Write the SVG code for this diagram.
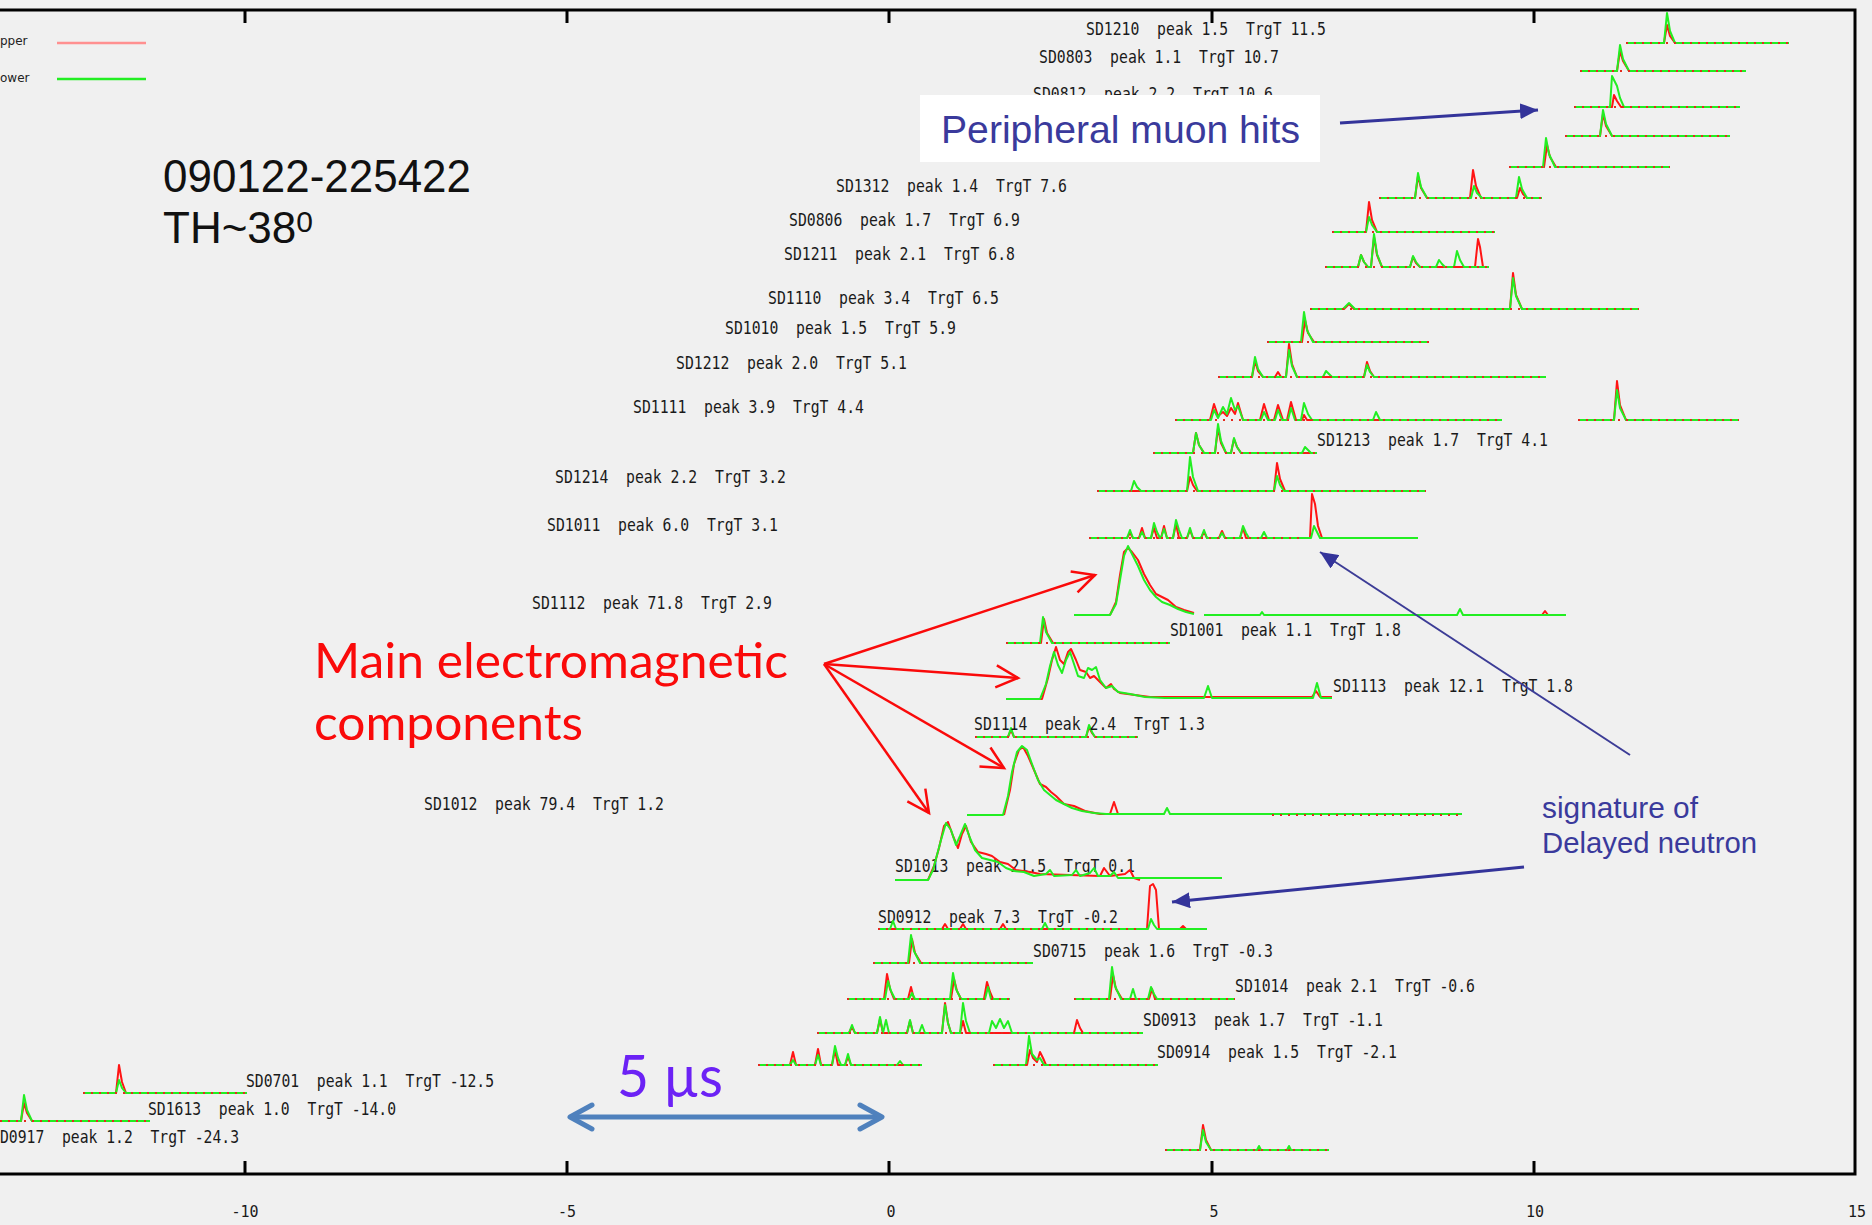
<svg xmlns="http://www.w3.org/2000/svg" width="1872" height="1225" viewBox="0 0 1872 1225">
<style>
  .g{fill:none;stroke:#22ee22;stroke-width:2;stroke-linejoin:round}
  .r{fill:none;stroke:#ff1414;stroke-width:2;stroke-linejoin:round}
  .nz{fill:none;stroke:#e42a1e;stroke-width:2;stroke-dasharray:2 6}
  .lb{font-family:"DejaVu Sans Mono","Liberation Mono",monospace;font-size:17px;fill:#1a1a1a;white-space:pre}
  .tk{font-family:"DejaVu Sans Mono","Liberation Mono",monospace;font-size:15px;fill:#1a1a1a;text-anchor:middle}
  .frame{fill:none;stroke:#000;stroke-width:3}
  .big{font-family:"Liberation Sans",Arial,sans-serif;fill:#111}
  .navy{font-family:"Liberation Sans",Arial,sans-serif;fill:#3a3a9c}
  .em{font-family:Lato,"Open Sans",sans-serif;fill:#fa0a0a}
</style>
<defs>
  <marker id="headRed" markerUnits="userSpaceOnUse" viewBox="0 0 30 30" markerWidth="30" markerHeight="30" refX="27" refY="15" orient="auto">
    <path d="M5,4 L27,15 L5,26" fill="none" stroke="#fa0a0a" stroke-width="2.5"/>
  </marker>
  <marker id="headNavy" markerUnits="userSpaceOnUse" viewBox="0 0 20 16" markerWidth="20" markerHeight="16" refX="18" refY="8" orient="auto">
    <path d="M0,0 L18,8 L0,16 z" fill="#34349a"/>
  </marker>
  <marker id="headBlue" markerUnits="userSpaceOnUse" viewBox="0 0 32 32" markerWidth="32" markerHeight="32" refX="27" refY="16" orient="auto-start-reverse">
    <path d="M5,4 L27,16 L5,28" fill="none" stroke="#4f81bd" stroke-width="5" stroke-linejoin="round" stroke-linecap="round"/>
  </marker>
</defs>

<rect width="1872" height="1225" fill="#f0f0f0"/>

<!-- plot frame, ticks and time axis -->
<g id="axes">
  <path class="frame" d="M0 10 H1855 V1174 H0"/>
  <path class="frame" d="M245 10 v13 M567 10 v13 M889 10 v13 M1212 10 v13 M1534 10 v13 M245 1174 v-13 M567 1174 v-13 M889 1174 v-13 M1212 1174 v-13 M1534 1174 v-13"/>
  <text class="tk" x="245" y="1217">-10</text>
  <text class="tk" x="567" y="1217">-5</text>
  <text class="tk" x="891" y="1217">0</text>
  <text class="tk" x="1214" y="1217">5</text>
  <text class="tk" x="1535" y="1217">10</text>
  <text class="tk" x="1857" y="1217">15</text>
</g>

<!-- legend -->
<g id="legend">
  <text x="0" y="45" font-family="DejaVu Sans,sans-serif" font-size="12" fill="#222">pper</text>
  <line x1="57" y1="43" x2="146" y2="43" stroke="#ff9090" stroke-width="2.5"/>
  <text x="0" y="82" font-family="DejaVu Sans,sans-serif" font-size="12" fill="#222">ower</text>
  <line x1="57" y1="79" x2="146" y2="79" stroke="#22ee22" stroke-width="2.5"/>
</g>

<!-- station traces: red = upper PMT, green = lower PMT -->
<g id="traces">
  <g id="sd1210">
    <path class="r" d="M1626 43 H1664 l3 -18 l3 11 l5 7 H1789"/>
    <path class="g" d="M1626 43 H1664 l3 -30 l3 18 l5 12 H1789"/>
    <path class="nz" d="M1626 43 H1789"/>
    <text class="lb" x="1086" y="35" textLength="240" lengthAdjust="spacingAndGlyphs">SD1210  peak 1.5  TrgT 11.5</text>
  </g>
  <g id="sd0803">
    <path class="r" d="M1580 71 H1617 l3 -20 l3 10 l6 10 H1746"/>
    <path class="g" d="M1580 71 H1617 l3 -26 l3 14 l6 12 H1746"/>
    <path class="nz" d="M1580 71 H1746"/>
    <text class="lb" x="1039" y="63" textLength="240" lengthAdjust="spacingAndGlyphs">SD0803  peak 1.1  TrgT 10.7</text>
  </g>
  <g id="sd0812">
    <path class="r" d="M1574 107 H1612 l2 -12 l3 6 l4 6 H1740"/>
    <path class="g" d="M1574 107 H1610 l2 -31 l3 6 l2 4 l3 12 l4 9 H1740"/>
    <path class="nz" d="M1574 107 H1740"/>
    <text class="lb" x="1033" y="100" textLength="240" lengthAdjust="spacingAndGlyphs">SD0812  peak 2.2  TrgT 10.6</text>
  </g>
  <g id="trace-136">
    <path class="r" d="M1565 136 H1600 l3 -22 l3 12 l6 10 H1730"/>
    <path class="g" d="M1565 136 H1600 l3 -26 l3 14 l6 12 H1730"/>
    <path class="nz" d="M1565 136 H1730"/>
  </g>
  <g id="trace-167">
    <path class="r" d="M1509 167 H1544 l3 -22 l3 12 l6 10 H1670"/>
    <path class="g" d="M1509 167 H1543 l3 -29 l3 16 l6 13 H1670"/>
    <path class="nz" d="M1509 167 H1670"/>
  </g>
  <g id="sd1312">
    <path class="r" d="M1379 198 H1415 l3 -22 l3 12 l6 10 H1470 l3 -28 l3 16 l5 12 H1517 l3 -10 l3 6 l4 4 H1542"/>
    <path class="g" d="M1379 198 H1415 l3 -25 l3 14 l6 11 H1471 l3 -12 l3 7 l5 5 H1516 l3 -21 l3 12 l5 9 H1542"/>
    <path class="nz" d="M1379 198 H1542"/>
    <text class="lb" x="836" y="192" textLength="231" lengthAdjust="spacingAndGlyphs">SD1312  peak 1.4  TrgT 7.6</text>
  </g>
  <g id="sd0806">
    <path class="r" d="M1332 232 H1366 l3 -30 l3 18 l5 12 H1495"/>
    <path class="g" d="M1332 232 H1366 l3 -15 l3 8 l5 7 H1495"/>
    <path class="nz" d="M1332 232 H1495"/>
    <text class="lb" x="789" y="226" textLength="231" lengthAdjust="spacingAndGlyphs">SD0806  peak 1.7  TrgT 6.9</text>
  </g>
  <g id="sd1211">
    <path class="r" d="M1325 267 H1358 l3 -12 l3 7 l4 5 H1371 l3 -30 l3 18 l5 12 H1410 l3 -10 l3 6 l4 4 H1475 l3 -28 l2 8 l3 20 H1489"/>
    <path class="g" d="M1325 267 H1358 l3 -12 l3 7 l4 5 H1371 l3 -33 l3 20 l5 13 H1410 l3 -11 l3 6 l4 5 H1436 l3 -7 l3 4 l3 3 H1454 l3 -16 l3 9 l4 7 H1489"/>
    <path class="nz" d="M1325 267 H1489"/>
    <text class="lb" x="784" y="260" textLength="231" lengthAdjust="spacingAndGlyphs">SD1211  peak 2.1  TrgT 6.8</text>
  </g>
  <g id="sd1110">
    <path class="r" d="M1310 309 H1344 l5 -5 l5 5 H1510 l3 -36 l3 22 l6 14 H1639"/>
    <path class="g" d="M1310 309 H1343 l6 -6 l6 6 H1510 l3 -31 l3 18 l6 13 H1639"/>
    <path class="nz" d="M1310 309 H1639"/>
    <text class="lb" x="768" y="304" textLength="231" lengthAdjust="spacingAndGlyphs">SD1110  peak 3.4  TrgT 6.5</text>
  </g>
  <g id="sd1010">
    <path class="r" d="M1267 342 H1302 l3 -22 l3 13 l6 9 H1429"/>
    <path class="g" d="M1267 342 H1301 l3 -30 l3 18 l6 12 H1429"/>
    <path class="nz" d="M1267 342 H1429"/>
    <text class="lb" x="725" y="334" textLength="231" lengthAdjust="spacingAndGlyphs">SD1010  peak 1.5  TrgT 5.9</text>
  </g>
  <g id="sd1212">
    <path class="r" d="M1218 377 H1252 l3 -16 l3 10 l5 6 H1275 l3 -5 l3 5 H1286 l3 -33 l3 20 l5 13 H1364 l3 -15 l3 9 l4 6 H1546"/>
    <path class="g" d="M1218 377 H1252 l3 -20 l3 12 l5 8 H1286 l3 -27 l3 16 l5 11 H1323 l3 -6 l3 3 l3 3 H1364 l3 -12 l3 7 l4 5 H1546"/>
    <path class="nz" d="M1218 377 H1546"/>
    <text class="lb" x="676" y="369" textLength="231" lengthAdjust="spacingAndGlyphs">SD1212  peak 2.0  TrgT 5.1</text>
  </g>
  <g id="sd1111">
    <path class="r" d="M1175 420 H1210 L1214 404 L1218 416 L1223 412 L1227 416 L1231 408 L1235 414 L1238 403 L1243 420 H1260 L1264 404 L1269 420 H1274 L1278 405 L1283 420 H1287 L1291 402 L1296 420 H1302 L1304 415 L1307 420 H1502"/>
    <path class="g" d="M1175 420 H1211 L1214 410 L1218 418 L1223 407 L1227 414 L1231 398 L1235 410 L1238 406 L1243 420 H1261 L1264 412 L1268 420 H1275 L1278 410 L1282 420 H1288 L1291 408 L1295 420 H1301 L1304 403 L1308 414 L1312 420 H1373 L1376 412 L1380 420 H1502"/>
    <path class="nz" d="M1175 420 H1502"/>
    <text class="lb" x="633" y="413" textLength="231" lengthAdjust="spacingAndGlyphs">SD1111  peak 3.9  TrgT 4.4</text>
  </g>
  <g id="trace-420b">
    <path class="r" d="M1578 420 H1614 l3 -39 l3 24 l6 15 H1739"/>
    <path class="g" d="M1578 420 H1614 l3 -30 l3 18 l6 12 H1739"/>
    <path class="nz" d="M1578 420 H1739"/>
  </g>
  <g id="sd1213">
    <path class="r" d="M1153 453 H1193 l3 -20 l3 12 l5 8 H1215 l3 -25 l3 15 l5 10 H1231 l3 -14 l3 8 l4 6 H1317"/>
    <path class="g" d="M1153 453 H1193 l3 -20 l3 12 l5 8 H1215 l3 -29 l3 17 l5 12 H1231 l3 -15 l3 9 l4 6 H1302 l3 -6 l3 3 l3 3 H1317"/>
    <path class="nz" d="M1153 453 H1317"/>
    <text class="lb" x="1317" y="446" textLength="231" lengthAdjust="spacingAndGlyphs">SD1213  peak 1.7  TrgT 4.1</text>
  </g>
  <g id="sd1214">
    <path class="r" d="M1097 491 H1187 l3 -14 l3 8 l4 6 H1274 l3 -28 l3 16 l5 12 H1426"/>
    <path class="g" d="M1097 491 H1131 l3 -10 l3 6 l4 4 H1187 l3 -34 l3 20 l5 14 H1274 l3 -15 l3 9 l4 6 H1426"/>
    <path class="nz" d="M1097 491 H1426"/>
    <text class="lb" x="555" y="483" textLength="231" lengthAdjust="spacingAndGlyphs">SD1214  peak 2.2  TrgT 3.2</text>
  </g>
  <g id="sd1011">
    <path class="r" d="M1089 538 H1127 l3 -5 l3 5 H1139 l3 -10 l3 10 H1151 l3 -10 l3 10 H1161 l3 -12 l3 12 H1173 l3 -14 l3 14 H1187 l3 -8 l3 8 H1201 l3 -6 l3 6 H1219 l3 -7 l3 7 H1240 l3 -10 l3 10 H1310 l2 -44 l3 10 l3 22 l4 12 H1418"/>
    <path class="g" d="M1089 538 H1127 l3 -8 l3 8 H1139 l3 -6 l3 6 H1151 l3 -15 l3 9 l3 6 H1161 l3 -9 l3 9 H1173 l3 -18 l3 10 l3 8 H1187 l3 -10 l3 10 H1201 l3 -8 l3 8 H1219 l3 -5 l3 5 H1240 l3 -12 l3 7 l3 5 H1261 l3 -6 l3 6 H1311 l3 -12 l3 6 l3 6 H1418"/>
    <path class="nz" d="M1089 538 H1300"/>
    <text class="lb" x="547" y="531" textLength="231" lengthAdjust="spacingAndGlyphs">SD1011  peak 6.0  TrgT 3.1</text>
  </g>
  <g id="sd1112">
    <path class="r" d="M1110 615 L1116 602 L1120 575 L1124 552 L1128 548 L1132 552 L1138 560 L1144 574 L1150 585 L1156 594 L1162 597 L1168 600 L1176 607 L1184 610 L1194 613 M1542 615 l3 -4 l3 4"/>
    <path class="g" d="M1074 615 H1110 L1116 604 L1120 580 L1124 556 L1128 546 L1133 556 L1138 566 L1144 580 L1150 590 L1156 597 L1162 602 L1170 605 L1178 609 L1186 612 L1194 614 M1204 615 H1260 l2 -3 l2 3 H1457 l3 -6 l3 6 H1566"/>
    <text class="lb" x="532" y="609" textLength="240" lengthAdjust="spacingAndGlyphs">SD1112  peak 71.8  TrgT 2.9</text>
  </g>
  <g id="sd1001">
    <path class="r" d="M1006 643 H1041 l3 -24 l3 14 l6 10 H1170"/>
    <path class="g" d="M1006 643 H1040 l3 -26 l3 15 l6 11 H1170"/>
    <path class="nz" d="M1006 643 H1170"/>
    <text class="lb" x="1170" y="636" textLength="231" lengthAdjust="spacingAndGlyphs">SD1001  peak 1.1  TrgT 1.8</text>
  </g>
  <g id="sd1113">
    <path class="r" d="M1006 699 H1042 L1048 678 L1052 660 L1056 647 L1060 660 L1064 664 L1068 652 L1071 649 L1076 660 L1080 670 L1086 672 L1090 678 L1094 676 L1100 682 L1106 688 L1111 684 L1114 689 L1120 693 L1135 695 L1150 697 H1312 l4 -6 l4 6 H1332"/>
    <path class="g" d="M1006 699 H1040 L1046 684 L1050 666 L1054 652 L1058 665 L1062 673 L1066 660 L1070 652 L1074 664 L1078 676 L1084 678 L1088 668 L1092 670 L1096 667 L1100 680 L1106 688 L1112 686 L1118 692 L1130 694 L1145 697 L1165 698 H1204 l4 -12 l4 12 H1313 l4 -15 l4 15 H1332"/>
    <text class="lb" x="1333" y="692" textLength="240" lengthAdjust="spacingAndGlyphs">SD1113  peak 12.1  TrgT 1.8</text>
  </g>
  <g id="sd1114">
    <path class="r" d="M975 737 H1008 l3 -7 l3 7 H1086 l3 -10 l3 6 l3 4 H1138"/>
    <path class="g" d="M975 737 H1008 l3 -9 l3 9 H1086 l3 -12 l3 7 l3 5 H1138"/>
    <path class="nz" d="M975 737 H1138"/>
    <text class="lb" x="974" y="730" textLength="231" lengthAdjust="spacingAndGlyphs">SD1114  peak 2.4  TrgT 1.3</text>
  </g>
  <g id="sd1012">
    <path class="r" d="M1004 815 L1010 790 L1014 764 L1019 750 L1023 747 L1028 756 L1034 770 L1040 784 L1046 787 L1051 792 L1056 796 L1064 804 L1074 806 L1085 811 L1100 814 H1110 l4 -12 l4 12 H1130"/>
    <path class="g" d="M967 815 H1003 L1008 796 L1012 772 L1017 752 L1022 746 L1027 750 L1032 764 L1038 780 L1044 790 L1050 795 L1056 800 L1064 804 L1072 808 L1082 811 L1094 813 L1106 814 H1164 l3 -6 l3 6 H1462"/>
    <path class="nz" d="M1272 815 H1462"/>
    <text class="lb" x="424" y="810" textLength="240" lengthAdjust="spacingAndGlyphs">SD1012  peak 79.4  TrgT 1.2</text>
  </g>
  <g id="sd1013">
    <text class="lb" x="895" y="872" textLength="240" lengthAdjust="spacingAndGlyphs">SD1013  peak 21.5  TrgT 0.1</text>
    <path class="r" d="M928 880 L934 866 L939 848 L944 826 L948 822 L953 836 L958 848 L962 834 L966 826 L971 842 L978 852 L986 854 L992 856 L1000 862 L1008 864 L1016 870 L1030 872 L1040 874 L1100 876 L1104 868 L1110 876 L1125 874 L1130 870 L1134 878 L1140 880"/>
    <path class="g" d="M895 880 H928 L933 870 L937 855 L941 840 L946 823 L951 830 L956 845 L960 836 L965 824 L970 838 L975 850 L982 858 L990 860 L998 862 L1006 868 L1014 871 L1024 872 L1034 876 L1046 874 L1050 870 L1054 876 L1072 875 L1076 870 L1080 876 L1090 873 L1094 868 L1098 876 L1110 876 L1114 872 L1118 878 H1222"/>
  </g>
  <g id="sd0912">
    <text class="lb" x="878" y="923" textLength="240" lengthAdjust="spacingAndGlyphs">SD0912  peak 7.3  TrgT -0.2</text>
    <path class="r" d="M878 929 H942 l3 -5 l3 5 H960 l3 -5 l3 5 H1000 l3 -5 l3 5 H1147 L1150 886 L1153 884 L1156 890 L1159 929 H1180 l3 -3 l3 3 H1207"/>
    <path class="g" d="M878 929 H890 l3 -8 l3 8 H1042 l3 -6 l3 6 H1148 l3 -10 l3 6 l3 4 H1207"/>
    <path class="nz" d="M878 929 H1140"/>
  </g>
  <g id="sd0715">
    <path class="r" d="M873 963 H909 l3 -24 l3 14 l6 10 H1033"/>
    <path class="g" d="M873 963 H908 l3 -28 l3 16 l6 12 H1033"/>
    <path class="nz" d="M873 963 H1033"/>
    <text class="lb" x="1033" y="957" textLength="240" lengthAdjust="spacingAndGlyphs">SD0715  peak 1.6  TrgT -0.3</text>
  </g>
  <g id="sd1014">
    <path class="r" d="M847 999 H884 l3 -25 l3 15 l4 10 H908 l3 -12 l3 12 H951 l3 -20 l3 12 l4 8 H984 l3 -17 l3 10 l3 7 H1010 M1074 999 H1110 l3 -24 l3 14 l6 10 H1149 l3 -10 l3 10 H1235"/>
    <path class="g" d="M847 999 H885 l3 -18 l3 10 l4 8 H909 l3 -6 l3 6 H950 l3 -26 l3 16 l5 10 H985 l3 -12 l3 12 H1010 M1074 999 H1109 l3 -32 l3 19 l6 13 H1130 l3 -10 l3 10 H1148 l3 -12 l3 7 l3 5 H1235"/>
    <path class="nz" d="M847 999 H1010 M1074 999 H1235"/>
    <text class="lb" x="1235" y="992" textLength="240" lengthAdjust="spacingAndGlyphs">SD1014  peak 2.1  TrgT -0.6</text>
  </g>
  <g id="sd0913">
    <path class="r" d="M817 1033 H849 l3 -6 l3 6 H877 l3 -14 l3 14 H907 l3 -12 l3 12 H942 l3 -30 l3 20 l3 10 H960 l3 -12 l3 12 H1074 l3 -13 l3 8 l3 5 H1143"/>
    <path class="g" d="M817 1033 H849 l3 -8 l3 8 H877 l3 -16 l3 16 l3 -13 l3 13 H907 l3 -13 l3 13 H919 l3 -8 l3 8 H942 l3 -28 l3 18 l3 10 H960 l3 -30 l3 18 l4 12 H989 L992 1021 L996 1028 L1000 1019 L1004 1028 L1008 1021 L1012 1033 H1143"/>
    <path class="nz" d="M817 1033 H1143"/>
    <text class="lb" x="1143" y="1026" textLength="240" lengthAdjust="spacingAndGlyphs">SD0913  peak 1.7  TrgT -1.1</text>
  </g>
  <g id="sd0914">
    <path class="r" d="M758 1065 H790 l3 -13 l3 13 H815 l3 -16 l3 16 H832 l3 -15 l3 15 H845 l3 -8 l3 8 H922 M993 1065 H1027 l3 -15 l3 8 l4 4 l3 -10 l3 6 l3 7 H1158"/>
    <path class="g" d="M758 1065 H790 l3 -5 l3 5 H815 l3 -10 l3 10 H832 l3 -19 l3 12 l3 7 H845 l3 -11 l3 11 H897 l3 -4 l3 4 H922 M993 1065 H1026 l3 -29 l3 18 l5 6 l3 -2 l4 7 H1158"/>
    <path class="nz" d="M758 1065 H922 M993 1065 H1158"/>
    <text class="lb" x="1157" y="1058" textLength="240" lengthAdjust="spacingAndGlyphs">SD0914  peak 1.5  TrgT -2.1</text>
  </g>
  <g id="sd0701">
    <path class="r" d="M83 1093 H116 l3 -28 l3 17 l4 11 H247"/>
    <path class="g" d="M83 1093 H116 l3 -13 l3 8 l4 5 H247"/>
    <path class="nz" d="M83 1093 H247"/>
    <text class="lb" x="246" y="1087" textLength="248" lengthAdjust="spacingAndGlyphs">SD0701  peak 1.1  TrgT -12.5</text>
  </g>
  <g id="sd1613">
    <path class="r" d="M0 1121 H21 l3 -18 l3 10 l5 8 H150"/>
    <path class="g" d="M0 1121 H21 l3 -26 l3 15 l5 11 H150"/>
    <path class="nz" d="M0 1121 H150"/>
    <text class="lb" x="148" y="1115" textLength="248" lengthAdjust="spacingAndGlyphs">SD1613  peak 1.0  TrgT -14.0</text>
  </g>
  <g id="sd0917">
    <text class="lb" x="0" y="1143" textLength="239" lengthAdjust="spacingAndGlyphs">D0917  peak 1.2  TrgT -24.3</text>
  </g>
  <g id="trace-1150">
    <path class="r" d="M1165 1150 H1200 l3 -25 l3 15 l5 10 H1329"/>
    <path class="g" d="M1165 1150 H1200 l3 -20 l3 12 l5 8 H1257 l2 -4 l2 4 H1287 l2 -4 l2 4 H1329"/>
    <path class="nz" d="M1165 1150 H1329"/>
  </g>
</g>

<!-- event header and annotations -->
<g id="event-title">
  <text class="big" x="163" y="192" font-size="46" textLength="308" lengthAdjust="spacingAndGlyphs">090122-225422</text>
  <text class="big" x="163" y="243" font-size="44">TH~38<tspan dy="-11" font-size="30">0</tspan></text>
</g>
<g id="muon-note">
  <rect x="920" y="95" width="400" height="67" fill="#ffffff"/>
  <text class="navy" x="941" y="143" font-size="39" textLength="359" lengthAdjust="spacingAndGlyphs">Peripheral muon hits</text>
</g>
<g id="em-note">
  <text class="em" x="314" y="678" font-size="48" textLength="474" lengthAdjust="spacingAndGlyphs">Main electromagnetic</text>
  <text class="em" x="314" y="740" font-size="48" textLength="269" lengthAdjust="spacingAndGlyphs">components</text>
</g>
<g id="neutron-note">
  <text class="navy" x="1542" y="818" font-size="30" textLength="156" lengthAdjust="spacingAndGlyphs">signature of</text>
  <text class="navy" x="1542" y="853" font-size="30" textLength="215" lengthAdjust="spacingAndGlyphs">Delayed neutron</text>
</g>
<g id="scale-note">
  <text x="617" y="1097" font-family="Lato,'Open Sans',sans-serif" font-size="58" fill="#6c22f5" textLength="106" lengthAdjust="spacingAndGlyphs">5 µs</text>
</g>

<!-- annotation arrows -->
<g id="connectors">
  <line x1="1340" y1="123" x2="1538" y2="110" stroke="#34349a" stroke-width="3" marker-end="url(#headNavy)"/>
  <line x1="1524" y1="867" x2="1172" y2="902" stroke="#34349a" stroke-width="3" marker-end="url(#headNavy)"/>
  <line x1="1630" y1="755" x2="1320" y2="552" stroke="#3c3c96" stroke-width="2" marker-end="url(#headNavy)"/>
  <line x1="824" y1="664" x2="1095" y2="575" stroke="#fa0a0a" stroke-width="2.5" marker-end="url(#headRed)"/>
  <line x1="824" y1="664" x2="1018" y2="678" stroke="#fa0a0a" stroke-width="2.5" marker-end="url(#headRed)"/>
  <line x1="824" y1="664" x2="1004" y2="768" stroke="#fa0a0a" stroke-width="2.5" marker-end="url(#headRed)"/>
  <line x1="824" y1="664" x2="929" y2="813" stroke="#fa0a0a" stroke-width="2.5" marker-end="url(#headRed)"/>
  <line x1="570" y1="1117" x2="882" y2="1117" stroke="#4f81bd" stroke-width="5" marker-start="url(#headBlue)" marker-end="url(#headBlue)"/>
</g>
</svg>
